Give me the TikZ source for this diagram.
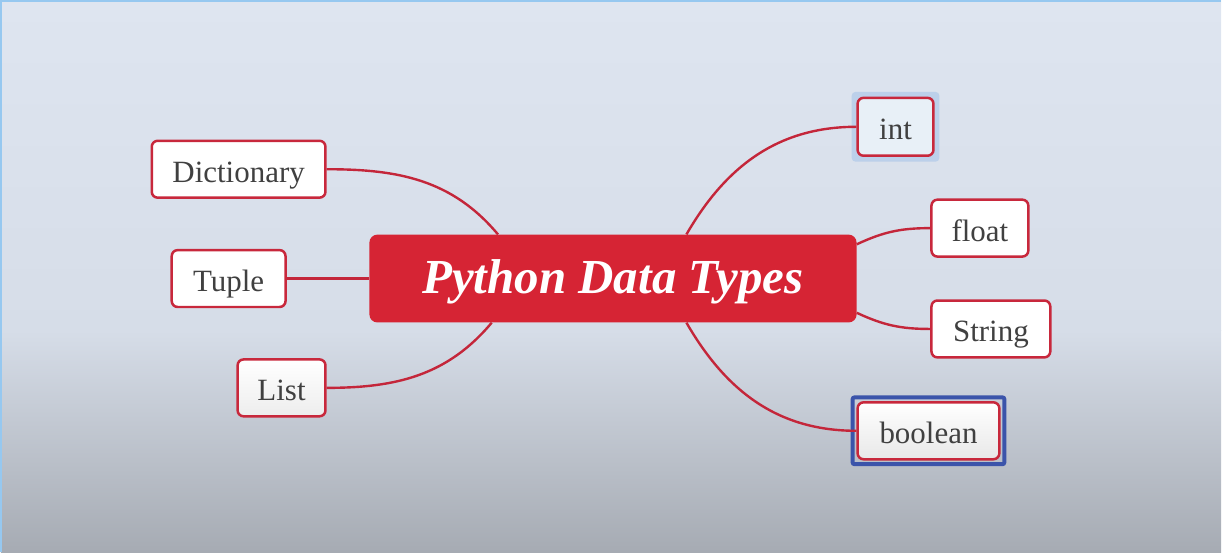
\documentclass[tikz,border=0pt]{standalone}
\usepackage{fontspec}
\setmainfont{Liberation Serif}
\usepackage{tikz}
\usetikzlibrary{positioning, calc}

\definecolor{pyred}{RGB}{214,36,52}
\definecolor{boxred}{RGB}{200,40,60}
\definecolor{linkred}{RGB}{196,38,58}
\definecolor{txtgrey}{RGB}{64,64,64}
\definecolor{bgtop}{RGB}{222,229,240}
\definecolor{bgmid}{RGB}{214,221,232}
\definecolor{bgbot}{RGB}{166,171,179}
\definecolor{halo}{RGB}{188,208,234}
\definecolor{intfill}{RGB}{232,240,247}
\definecolor{selblue}{RGB}{59,84,170}
\definecolor{edgeblue}{RGB}{150,200,240}

\begin{document}
\begin{tikzpicture}[
    x=1pt, y=-1pt,
    topic/.style={rectangle, rounded corners=8pt, fill=pyred, text=white, minimum width=488pt, minimum height=88pt, text height=30pt, text depth=0pt, font=\fontsize{49}{54}\selectfont\bfseries\itshape},
    leaf/.style={rectangle, draw=boxred, line width=2.5pt, rounded corners=6pt, fill=white, text=txtgrey, minimum height=57pt, inner sep=0pt, text height=26pt, text depth=0pt, font=\fontsize{31}{35}\selectfont},
    link/.style={draw=linkred, line width=2.4pt},
]
% Background
\fill[top color=bgtop, bottom color=bgmid] (0,0) rectangle (1222,330);
\fill[top color=bgmid, bottom color=bgbot] (0,330) rectangle (1222,552);
\draw[edgeblue, line width=2pt] (0,552) -- (0,0) -- (1222,0);
\useasboundingbox (0,0) rectangle (1222,552);

% Centre
\node[topic] (main) at (613,278) {Python Data Types};

% Left branches
\node[leaf, minimum width=174pt] (dict) at (238,168.5) {Dictionary};
\node[leaf, minimum width=114pt] (tuple) at (228,278) {Tuple};
\node[leaf, minimum width=88pt, top color=white, bottom color=black!7] (list) at (281,387.5) {List};

% Right branches
\fill[halo, rounded corners=4pt] (852,91) rectangle (940,161);
\node[leaf, minimum width=76pt, minimum height=58pt, fill=intfill] (int) at (896,126) {int};
\node[leaf, minimum width=97pt] (float) at (980.5,227.5) {float};
\node[leaf, minimum width=119pt] (string) at (991.5,328.5) {String};
\node[leaf, minimum width=142pt, top color=white, bottom color=black!9] (bool) at (929,430.5) {boolean};
\node[draw=selblue, line width=4pt, rounded corners=2pt, minimum width=152pt, minimum height=67pt] (boolsel) at (929,430.5) {};

% Connectors
\draw[link] (dict.east) to[out=0, in=130] (main.159.5);
\draw[link] (tuple.east) -- (main.west);
\draw[link] (list.east) to[out=0, in=230] (main.200.5);
\draw[link] (main.31.4) to[out=60, in=180] (int.west);
\draw[link] (main.8.85) to[out=25, in=180] (float.west);
\draw[link] (main.-8.85) to[out=-25, in=180] (string.west);
\draw[link] (main.-31.4) to[out=-60, in=180] (bool.west);

\end{tikzpicture}
\end{document}
